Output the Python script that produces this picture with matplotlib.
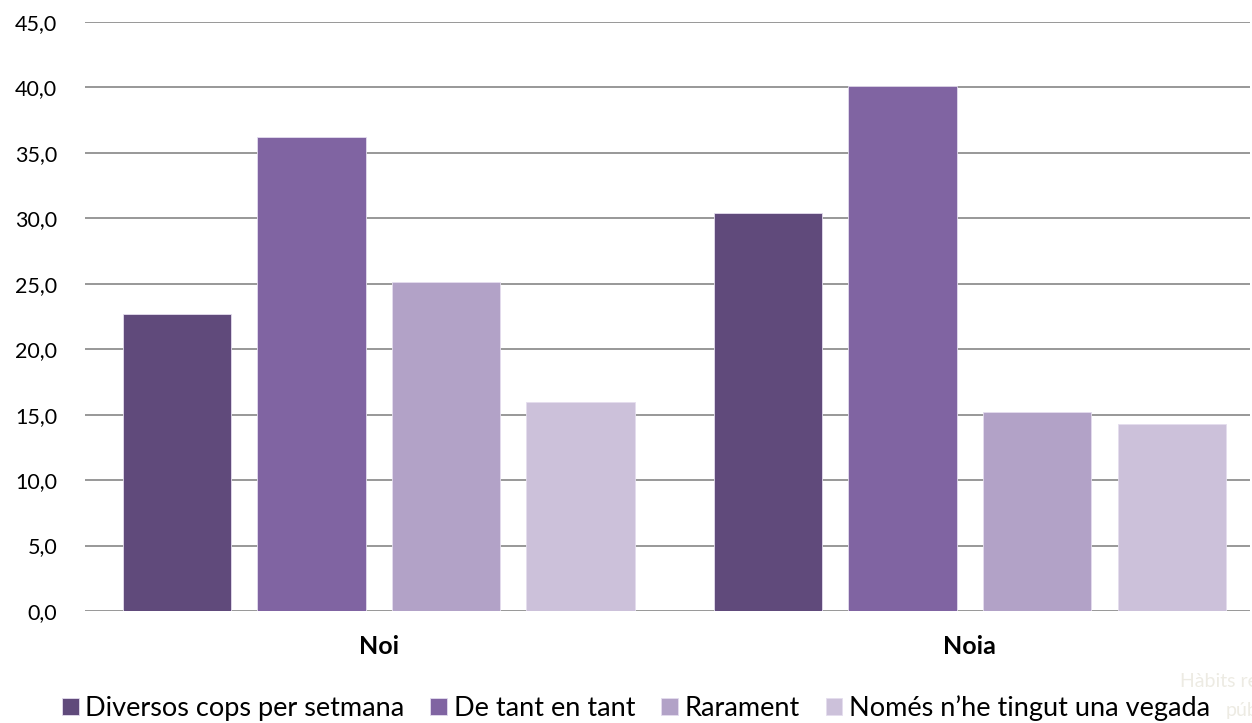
import matplotlib
matplotlib.use("Agg")
import matplotlib.pyplot as plt
import numpy as np

categories = ["Noi", "Noia"]
series_names = ["Diversos cops per setmana", "De tant en tant", "Rarament",
                "Només n\u2019he tingut una vegada"]
values = {
    "Diversos cops per setmana": [22.7, 30.4],
    "De tant en tant": [36.2, 40.1],
    "Rarament": [25.1, 15.2],
    "Només n\u2019he tingut una vegada": [16.0, 14.3],
}
colors = ["#604A7B", "#8064A2", "#B2A2C7", "#CCC1DA"]
yticks = [0, 5, 10, 15, 20, 25, 30, 35, 40, 45]
ytick_labels = ["0,0", "5,0", "10,0", "15,0", "20,0", "25,0", "30,0", "35,0", "40,0", "45,0"]

plt.rcParams['font.family'] = ['Lato', 'DejaVu Sans']

fig = plt.figure(figsize=(12.52, 7.23), dpi=100)
ax = fig.add_axes([85/1252, 1-611/723, (1250-85)/1252, (611-22)/723])

x = np.arange(len(categories))
step = 0.2276
width = 0.183
offsets = [-1.5*step, -0.5*step, 0.5*step, 1.5*step]
for i, name in enumerate(series_names):
    ax.bar(x + offsets[i], values[name], width=width, color=colors[i],
           edgecolor="#E4DDEE", linewidth=0.6, label=name, zorder=3)

ax.set_xlim(-0.497, 1.474)
ax.set_ylim(0, 45)
ax.set_yticks(yticks)
ax.set_yticklabels(ytick_labels, fontsize=15.5)
ax.set_xticks(x)
ax.set_xticklabels(categories, fontsize=18, fontweight='bold')
ax.tick_params(axis='both', length=0)
ax.tick_params(axis='y', pad=20)
ax.tick_params(axis='x', pad=17)
ax.grid(axis='y', color='#868686', linewidth=1.2, zorder=0)
ax.set_axisbelow(True)
for s in ax.spines.values():
    s.set_visible(False)

leg = fig.legend(loc='center', bbox_to_anchor=(0.508, 1-708/723), ncol=4,
                 frameon=False, fontsize=19.5, handlelength=0.62, handleheight=0.62,
                 handletextpad=0.25, columnspacing=0.95, borderpad=0)

fig.text(1180/1252, 1-687/723, "Hàbits relacionats", fontsize=14, color='#EDEBE3',
         va='baseline')
fig.text(1226/1252, 1-716/723, "públic", fontsize=14, color='#EDEBE3',
         va='baseline')

fig.savefig("out.png", dpi=100)
